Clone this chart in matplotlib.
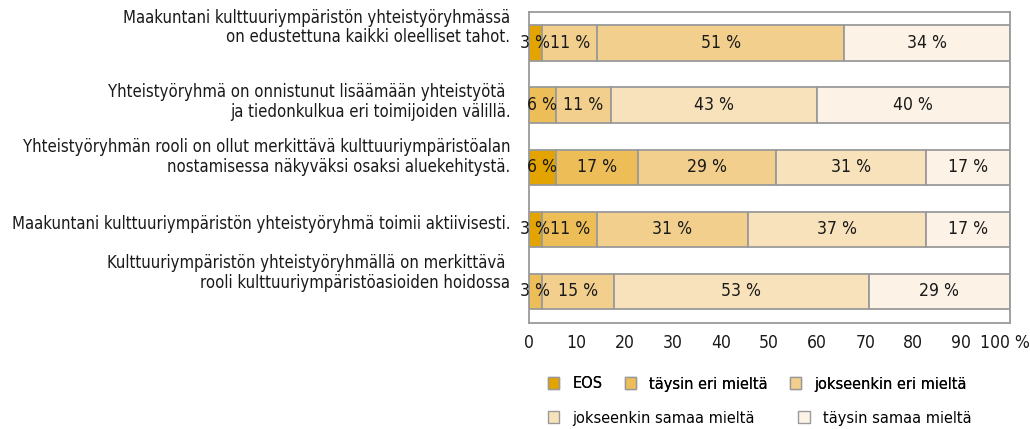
import matplotlib
matplotlib.use('Agg')
import matplotlib.pyplot as plt
import matplotlib.transforms as mtransforms
from matplotlib import font_manager
from matplotlib.patches import Patch
import numpy as np

# pick a narrow face if one is installed
names = {f.name for f in font_manager.fontManager.ttflist}
condensed = [f for f in font_manager.fontManager.ttflist
             if f.name == 'DejaVu Sans' and f.stretch in ('condensed', 'semi-condensed', 600, 700)]
if 'Liberation Sans Narrow' in names:
    plt.rcParams['font.family'] = ['Liberation Sans Narrow', 'DejaVu Sans']
elif condensed:
    plt.rcParams['font.family'] = ['DejaVu Sans']
    plt.rcParams['font.stretch'] = 'condensed'
else:
    plt.rcParams['font.family'] = ['Roboto', 'DejaVu Sans']

statements = [
    'Maakuntani kulttuuriympäristön yhteistyöryhmässä\non edustettuna kaikki oleelliset tahot.',
    'Yhteistyöryhmä on onnistunut lisäämään yhteistyötä \nja tiedonkulkua eri toimijoiden välillä.',
    'Yhteistyöryhmän rooli on ollut merkittävä kulttuuriympäristöalan\nnostamisessa näkyväksi osaksi aluekehitystä.',
    'Maakuntani kulttuuriympäristön yhteistyöryhmä toimii aktiivisesti.',
    'Kulttuuriympäristön yhteistyöryhmällä on merkittävä \nrooli kulttuuriympäristöasioiden hoidossa',
]
categories = ['EOS', 'täysin eri mieltä', 'jokseenkin eri mieltä',
              'jokseenkin samaa mieltä', 'täysin samaa mieltä']
eos = [2.9, 0, 5.7, 2.9, 0]
taysin_eri = [0, 5.65, 17.0, 11.4, 2.9]
jokseenkin_eri = [11.4, 11.45, 28.7, 31.3, 14.8]
jokseenkin_samaa = [51.3, 42.8, 31.3, 37.1, 53.0]
taysin_samaa = [34.4, 40.1, 17.3, 17.3, 29.3]
xticks = [0, 10, 20, 30, 40, 50, 60, 70, 80, 90, 100]
xticklabels = ['0', '10', '20', '30', '40', '50', '60', '70', '80', '90', '100 %']

colors = ['#E3A300', '#EDBD58', '#F2CF8C', '#F8E2BB', '#FCF3E6']
# the first row's 51 % segment is drawn in the darker shade in the original
color_override = {(0, 3): '#F2CF8C'}
# the original labels don't sit exactly level with their bars (pixels up)
label_lift = [18, 6, 13, 7, 21]

series = [eos, taysin_eri, jokseenkin_eri, jokseenkin_samaa, taysin_samaa]

fig = plt.figure(figsize=(10.3, 4.29), dpi=100)

# size the text so the longest one-line label is as wide as in the original
probe = fig.text(0, 0, statements[3], fontsize=12)
w = probe.get_window_extent(fig.canvas.get_renderer()).width
probe.remove()
fs = 12 * 498 / w

ax = fig.add_axes([528.5 / 1030, 1 - 322.5 / 429, 481 / 1030, 310.5 / 429])

y = np.arange(len(statements))
left = np.zeros(len(statements))
for j, vals in enumerate(series):
    vals = np.array(vals, dtype=float)
    cols = [color_override.get((i, j), colors[j]) for i in range(len(vals))]
    ax.barh(y, vals, left=left, height=0.57, color=cols,
            edgecolor='#9a9a9a', linewidth=1.3, label=categories[j])
    for i, v in enumerate(vals):
        if v > 0:
            ax.text(left[i] + v / 2, y[i], f'{round(v)} %', ha='center',
                    va='center', fontsize=fs * 1.05, color='#1a1a1a')
    left += vals

ax.set_xlim(0, 100)
ax.set_ylim(len(statements) - 0.5, -0.5)
ax.set_xticks(xticks)
ax.set_xticklabels(xticklabels, fontsize=fs * 1.05, color='#1a1a1a')
ax.set_yticks(y)
ax.set_yticklabels(statements, fontsize=fs, color='#1a1a1a',
                   linespacing=1.1, ha='right')
ax.tick_params(length=0, axis='x', pad=8)
ax.tick_params(length=0, axis='y', pad=13)
for lbl, lift in zip(ax.get_yticklabels(), label_lift):
    lbl.set_transform(lbl.get_transform() +
                      mtransforms.ScaledTranslation(0, lift / 100, fig.dpi_scale_trans))
last = ax.get_xticklabels()[-1]
last.set_transform(last.get_transform() +
                   mtransforms.ScaledTranslation(-5 / 100, 0, fig.dpi_scale_trans))
for s in ax.spines.values():
    s.set_color('#9a9a9a')
    s.set_linewidth(1.3)

handles = [Patch(facecolor=c, edgecolor='#9a9a9a', linewidth=1) for c in colors]
common = dict(frameon=False, fontsize=fs * 0.98, handlelength=0.7,
              handleheight=0.7, handletextpad=0.8,
              borderpad=0, borderaxespad=0)
leg1 = fig.legend(handles[:3], categories[:3], ncol=3, loc='center left',
                  bbox_to_anchor=(548 / 1030, 1 - 384 / 429),
                  columnspacing=1.35, **common)
leg2 = fig.legend(handles[3:], categories[3:], ncol=2, loc='center left',
                  bbox_to_anchor=(548 / 1030, 1 - 418 / 429),
                  columnspacing=2.65, **common)
fig.add_artist(leg1)

fig.savefig('out.png', dpi=100)
